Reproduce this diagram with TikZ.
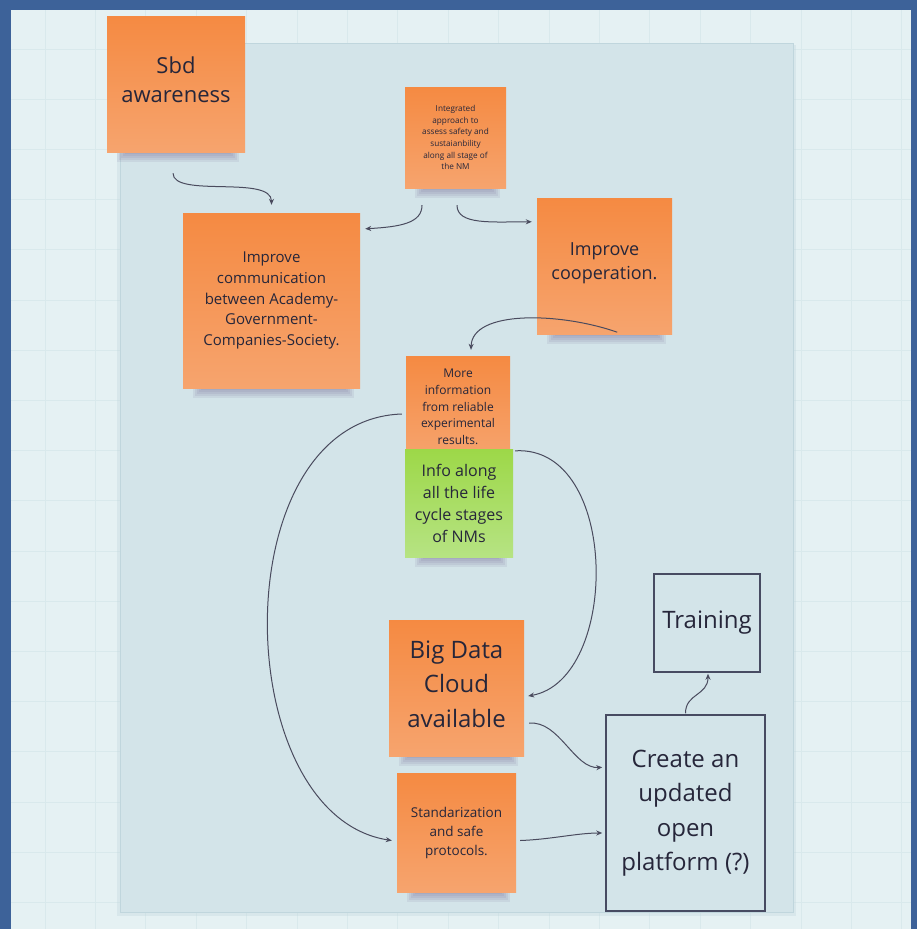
\documentclass[tikz,border=0pt]{standalone}
\usepackage{fontspec}
\setmainfont{Open Sans}
\usetikzlibrary{positioning,arrows.meta,backgrounds}
\definecolor{frameblue}{HTML}{3D6299}
\definecolor{canvas}{HTML}{E5F1F3}
\definecolor{gridline}{HTML}{D9E9EC}
\definecolor{panel}{HTML}{D3E4E9}
\definecolor{panelline}{HTML}{C0D6DD}
\definecolor{noteor}{HTML}{F58A42}
\definecolor{noteorlt}{HTML}{F6A46E}
\definecolor{notegr}{HTML}{9DD848}
\definecolor{notegrlt}{HTML}{B6E383}
\definecolor{ink}{HTML}{26263A}
\definecolor{boxline}{HTML}{474B62}
\definecolor{wire}{HTML}{4A4B5E}
\definecolor{shadowc}{HTML}{6A5C8C}
\tikzset{
  sn/.style={inner sep=0pt, align=center, text=ink},
  sn orange/.style={sn, top color=noteor, bottom color=noteorlt},
  sn green/.style={sn, top color=notegr, bottom color=notegrlt},
  sn box/.style={sn, draw=boxline, line width=1.5pt, fill=panel},
  sn link/.style={-{Stealth[length=6pt,width=5pt]}, wire, line width=1pt},
  fs tiny/.style={font=\fontsize{8.2}{11.7}\selectfont},
  fs small/.style={font=\fontsize{12}{16.7}\selectfont},
  fs std/.style={font=\fontsize{13.5}{19}\selectfont},
  fs comm/.style={font=\fontsize{15}{20.8}\selectfont},
  fs info/.style={font=\fontsize{16}{22}\selectfont},
  fs coop/.style={font=\fontsize{18}{24}\selectfont},
  fs sbd/.style={font=\fontsize{22}{29}\selectfont},
  fs big/.style={font=\fontsize{24}{34.5}\selectfont},
}

\begin{document}
\begin{tikzpicture}[x=1pt, y=-1pt]
  \useasboundingbox (0,0) rectangle (917,929);
  % sticky notes
  \node[sn orange, fs sbd, text depth=8pt, minimum width=138pt, minimum height=136pt] (sbd) at (176,84) {Sbd\\awareness};
  \node[sn orange, fs tiny, minimum width=101pt, minimum height=101pt] (integ) at (455.5,137.5) {Integrated\\approach to\\assess safety and\\sustaianbility\\along all stage of\\the NM};
  \node[sn orange, fs comm, minimum width=177pt, minimum height=175pt] (comm) at (271.5,300.5) {Improve\\communication\\between Academy-\\Government-\\Companies-Society.};
  \node[sn orange, fs coop, text depth=9pt, minimum width=135pt, minimum height=136pt] (coop) at (604.5,266) {Improve\\cooperation.};
  \node[sn orange, fs small, minimum width=104pt, minimum height=102pt] (more) at (458,407) {More\\information\\from reliable\\experimental\\results.};
  \node[sn green, fs info, minimum width=108pt, minimum height=108pt] (info) at (459,503) {Info along\\all the life\\cycle stages\\of NMs};
  \node[sn orange, fs big, text depth=8pt, minimum width=135pt, minimum height=136pt] (big) at (456.5,688) {Big Data\\Cloud\\available};
  \node[sn orange, fs std, minimum width=119pt, minimum height=119pt] (std) at (456.5,832.5) {Standarization\\and safe\\protocols.};
  % outlined boxes
  \node[sn box, fs big, minimum width=106pt, minimum height=98pt] (train) at (707,623) {Training};
  \node[sn box, fs big, minimum width=159pt, minimum height=196pt] (create) at (685.5,813) {Create an\\updated\\open\\platform (?)};
  % board, grid, frame and note shadows behind everything
  \begin{scope}[on background layer]
    \fill[frameblue] (0,0) rectangle (917,929);
    \fill[canvas] (11,10) rectangle (911,929);
    \foreach \gx in {0,...,17} \draw[gridline, line width=1pt] ({45+50.4*\gx},10) -- ++(0,919);
    \foreach \gy in {0,...,17} \draw[gridline, line width=1pt] (11,{49+50.2*\gy}) -- ++(900,0);
    \fill[panelline, opacity=.35] (117,45) rectangle (796,916);
    \draw[panelline, line width=1pt, fill=panel] (120,43) rectangle (793,912);
    \foreach \n in {sbd,integ,comm,coop,more,info,big,std}
      \foreach \k in {1,...,5}
        \fill[shadowc, opacity=.1] ([shift={(8+2*\k,-3)}]\n.south west) rectangle ([shift={(-4-2*\k,12-2*\k)}]\n.south east);
  \end{scope}
  % connectors
  \draw[sn link] ([shift={(-3,21)}]sbd.south) .. controls +(0,25) and +(0,-30) .. ([shift={(0,-8)}]comm.north);
  \draw[sn link] ([shift={(-33.5,17)}]integ.south) .. controls +(0,18) and +(35,-2) .. ([shift={(5,16)}]comm.north east);
  \draw[sn link] ([shift={(1.5,17)}]integ.south) .. controls +(0,20) and +(-40,0) .. ([shift={(-5,24)}]coop.north west);
  \draw[sn link] ([shift={(-55,-2)}]coop.south east) .. controls +(-57,-20) and +(1,-40) .. ([shift={(13,-6)}]more.north);
  \draw[sn link] ([shift={(-4,7)}]more.west) .. controls +(-180,6) and +(-164,-25) .. ([shift={(-5,8)}]std.west);
  \draw[sn link] ([shift={(2,2)}]info.north east) .. controls +(105,-6) and +(92,-16) .. ([shift={(4,8)}]big.east);
  \draw[sn link] ([shift={(5,-33)}]big.south east) .. controls +(30,-3) and +(-28,2) .. ([shift={(-3,53)}]create.north west);
  \draw[sn link] ([shift={(4,8)}]std.east) .. controls +(30,-1) and +(-25,0) .. ([shift={(-3,20)}]create.west);
  \draw[sn link] ([shift={(0,-1)}]create.north) .. controls +(0,-20) and +(0,22) .. ([shift={(1,1)}]train.south);
\end{tikzpicture}
\end{document}
